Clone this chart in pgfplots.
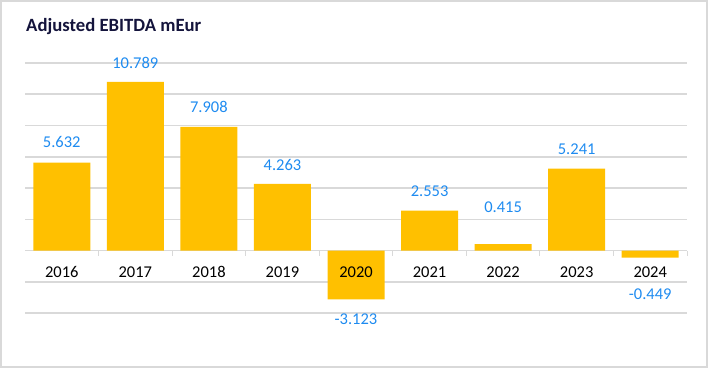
\documentclass[border=0pt]{standalone}
\usepackage{fontspec}
\setmainfont{Carlito}
\usepackage{pgfplots}
\pgfplotsset{compat=1.18}
\definecolor{bargold}{HTML}{FFC000}
\definecolor{lblblue}{HTML}{1E8BF0}
\definecolor{gridgray}{HTML}{D9D9D9}
\definecolor{titlenavy}{HTML}{14143C}
\begin{document}
\begin{tikzpicture}[x=1bp,y=1bp]
\useasboundingbox (-25,-55) rectangle (686,313);
\draw[gridgray, line width=1.5bp] (-24,-54) rectangle (682,312);
\node[anchor=base west, font=\bfseries\fontsize{18.7bp}{22bp}\selectfont, text=titlenavy, inner sep=0] at (1,281.5) {Adjusted EBITDA mEur};
\begin{axis}[at={(0,0)}, anchor=south west, scale only axis, width=662bp, height=250bp,
 xmin=-0.5, xmax=8.5, ymin=-4, ymax=12,
 axis x line=middle, axis y line=left,
 x axis line style={-, draw=gridgray, line width=1.5bp},
 y axis line style={draw=none},
 xtick={-0.5,0.5,...,8.5}, xticklabels={},
 xtick align=outside, major tick length=5bp,
 x tick style={draw=gridgray, line width=1bp},
 ytick={-4,-2,...,12}, yticklabels={}, y tick style={draw=none},
 ymajorgrids, grid style={gridgray, line width=1.5bp},
 clip=false,
]
\addplot[ybar, bar width=57bp, bar shift=0pt, fill=bargold, draw=none,
 nodes near coords, point meta=explicit symbolic,
 visualization depends on={value \thisrow{dy} \as \dy},
 every node near coord/.append style={anchor=center, yshift=\dy bp, text=lblblue, font=\fontsize{16.5bp}{20bp}\selectfont, inner sep=0}]
 table[x=x, y=y, meta=lab] {
 x y lab dy
 0 5.632 5.632 20.5
 1 10.789 10.789 19
 2 7.908 7.908 20
 3 4.263 4.263 19
 4 -3.123 -3.123 -19.5
 5 2.553 2.553 19.3
 6 0.415 0.415 37
 7 5.241 5.241 19
 8 -0.449 -0.449 -37
 };
\addplot[draw=none, mark=none, nodes near coords, point meta=explicit symbolic,
 every node near coord/.append style={anchor=base, yshift=-27bp, text=black, font=\fontsize{16.5bp}{20bp}\selectfont, inner sep=0}]
 table[x=x, y=y, meta=lab] {
 x y lab
 0 0 2016
 1 0 2017
 2 0 2018
 3 0 2019
 4 0 2020
 5 0 2021
 6 0 2022
 7 0 2023
 8 0 2024
 };
\end{axis}
\end{tikzpicture}
\end{document}
